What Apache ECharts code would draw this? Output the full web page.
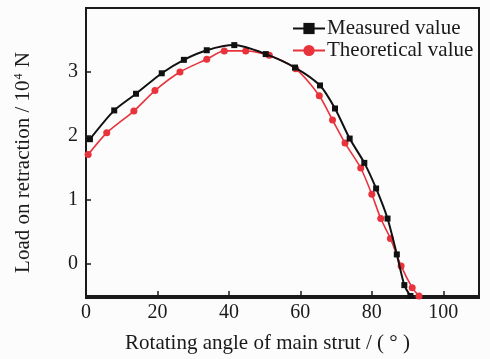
<!DOCTYPE html>
<html>
<head>
<meta charset="utf-8">
<script src="https://cdn.jsdelivr.net/npm/echarts@6/dist/echarts.min.js"></script>
<style>
  html, body { margin: 0; padding: 0; background: #fcfcfc; }
  #chart { width: 490px; height: 359px; }
</style>
</head>
<body>
<div id="chart"></div>
<script>
// Rotating angle of the main strut (degrees) and retraction load (10^4 N)
const measuredAngle = [1.1, 7.9, 14.0, 21.2, 27.4, 33.8, 41.5, 50.3, 58.5, 65.5, 69.7, 73.8, 77.9, 81.2, 84.4, 87.0, 89.1, 90.8];
const measuredLoad  = [1.95, 2.40, 2.66, 2.98, 3.19, 3.34, 3.42, 3.28, 3.07, 2.79, 2.43, 1.96, 1.58, 1.18, 0.71, 0.15, -0.33, -0.50];

const theoryAngle = [0.6, 5.8, 13.4, 19.3, 26.3, 33.8, 38.7, 44.7, 51.3, 58.7, 65.3, 69.0, 72.5, 76.9, 80.0, 82.5, 85.2, 88.2, 91.3, 93.2];
const theoryLoad  = [1.71, 2.05, 2.39, 2.71, 3.00, 3.20, 3.33, 3.33, 3.26, 3.05, 2.63, 2.25, 1.89, 1.50, 1.09, 0.71, 0.40, -0.03, -0.37, -0.50];

const xTicks = [0, 20, 40, 60, 80, 100];
const yTicks = [0, 1, 2, 3];

const seriesNames = ['Measured value', 'Theoretical value'];

const pairs = (xs, ys) => xs.map((x, i) => [x, ys[i]]);

const font = '"Liberation Serif", "DejaVu Serif", serif';
const ink = '#1a1a1a';

const chart = echarts.init(document.getElementById('chart'), null, { renderer: 'canvas' });

chart.setOption({
  backgroundColor: '#fcfcfc',
  animation: false,
  textStyle: { fontFamily: font, color: ink },
  grid: { left: 86, right: 11, top: 8, bottom: 61, containLabel: false },
  legend: {
    orient: 'vertical',
    left: 287,
    top: 13,
    itemWidth: 32,
    itemHeight: 14,
    itemGap: 1,
    padding: 5,
    textStyle: { fontFamily: font, fontSize: 21, color: ink, padding: [0, 0, 0, -3] },
    data: seriesNames
  },
  xAxis: {
    type: 'value',
    min: 0,
    max: 110,
    interval: 20,
    name: 'Rotating angle of main strut / ( \u00b0 )',
    nameLocation: 'middle',
    nameGap: 37,
    nameTextStyle: { fontFamily: font, fontSize: 21, color: ink, padding: [0, 30, 0, 0] },
    axisLine: { show: true, onZero: false, lineStyle: { color: ink, width: 2 } },
    axisTick: { show: true, inside: true, length: 5, lineStyle: { color: ink, width: 1.5 }, customValues: xTicks },
    axisLabel: { fontFamily: font, fontSize: 20, color: ink, margin: 7, customValues: xTicks },
    splitLine: { show: false }
  },
  yAxis: {
    type: 'value',
    min: -0.5,
    max: 4,
    name: '{t|Load on retraction / 10}{s|4}{t| N}',
    nameLocation: 'middle',
    nameGap: 52,
    nameRotate: 90,
    nameTextStyle: {
      rich: {
        t: { fontFamily: font, fontSize: 21, color: ink },
        s: { fontFamily: font, fontSize: 12, color: ink, verticalAlign: 'top', padding: [0, 1, 8, 1] }
      },
      padding: [0, 21, 0, 0]
    },
    axisLine: { show: true, onZero: false, lineStyle: { color: ink, width: 2 } },
    axisTick: { show: true, inside: true, length: 5, lineStyle: { color: ink, width: 1.5 }, customValues: yTicks },
    axisLabel: { fontFamily: font, fontSize: 20, color: ink, margin: 8, customValues: yTicks },
    splitLine: { show: false }
  },
  graphic: [{
    // frame on the top and right sides of the plot
    type: 'rect',
    shape: { x: 86, y: 8, width: 393, height: 290 },
    style: { fill: 'none', stroke: ink, lineWidth: 2 },
    silent: true,
    z: 0
  }],
  series: [
    {
      name: seriesNames[0],
      type: 'line',
      data: pairs(measuredAngle, measuredLoad),
      smooth: 0.25,
      symbol: 'rect',
      symbolSize: 6,
      itemStyle: { color: '#111111' },
      lineStyle: { color: '#111111', width: 2 },
      z: 3
    },
    {
      name: seriesNames[1],
      type: 'line',
      data: pairs(theoryAngle, theoryLoad),
      smooth: 0.25,
      symbol: 'circle',
      symbolSize: 7,
      itemStyle: { color: '#e8323c' },
      lineStyle: { color: '#e8323c', width: 1.6 },
      z: 2
    }
  ]
});
</script>
</body>
</html>
